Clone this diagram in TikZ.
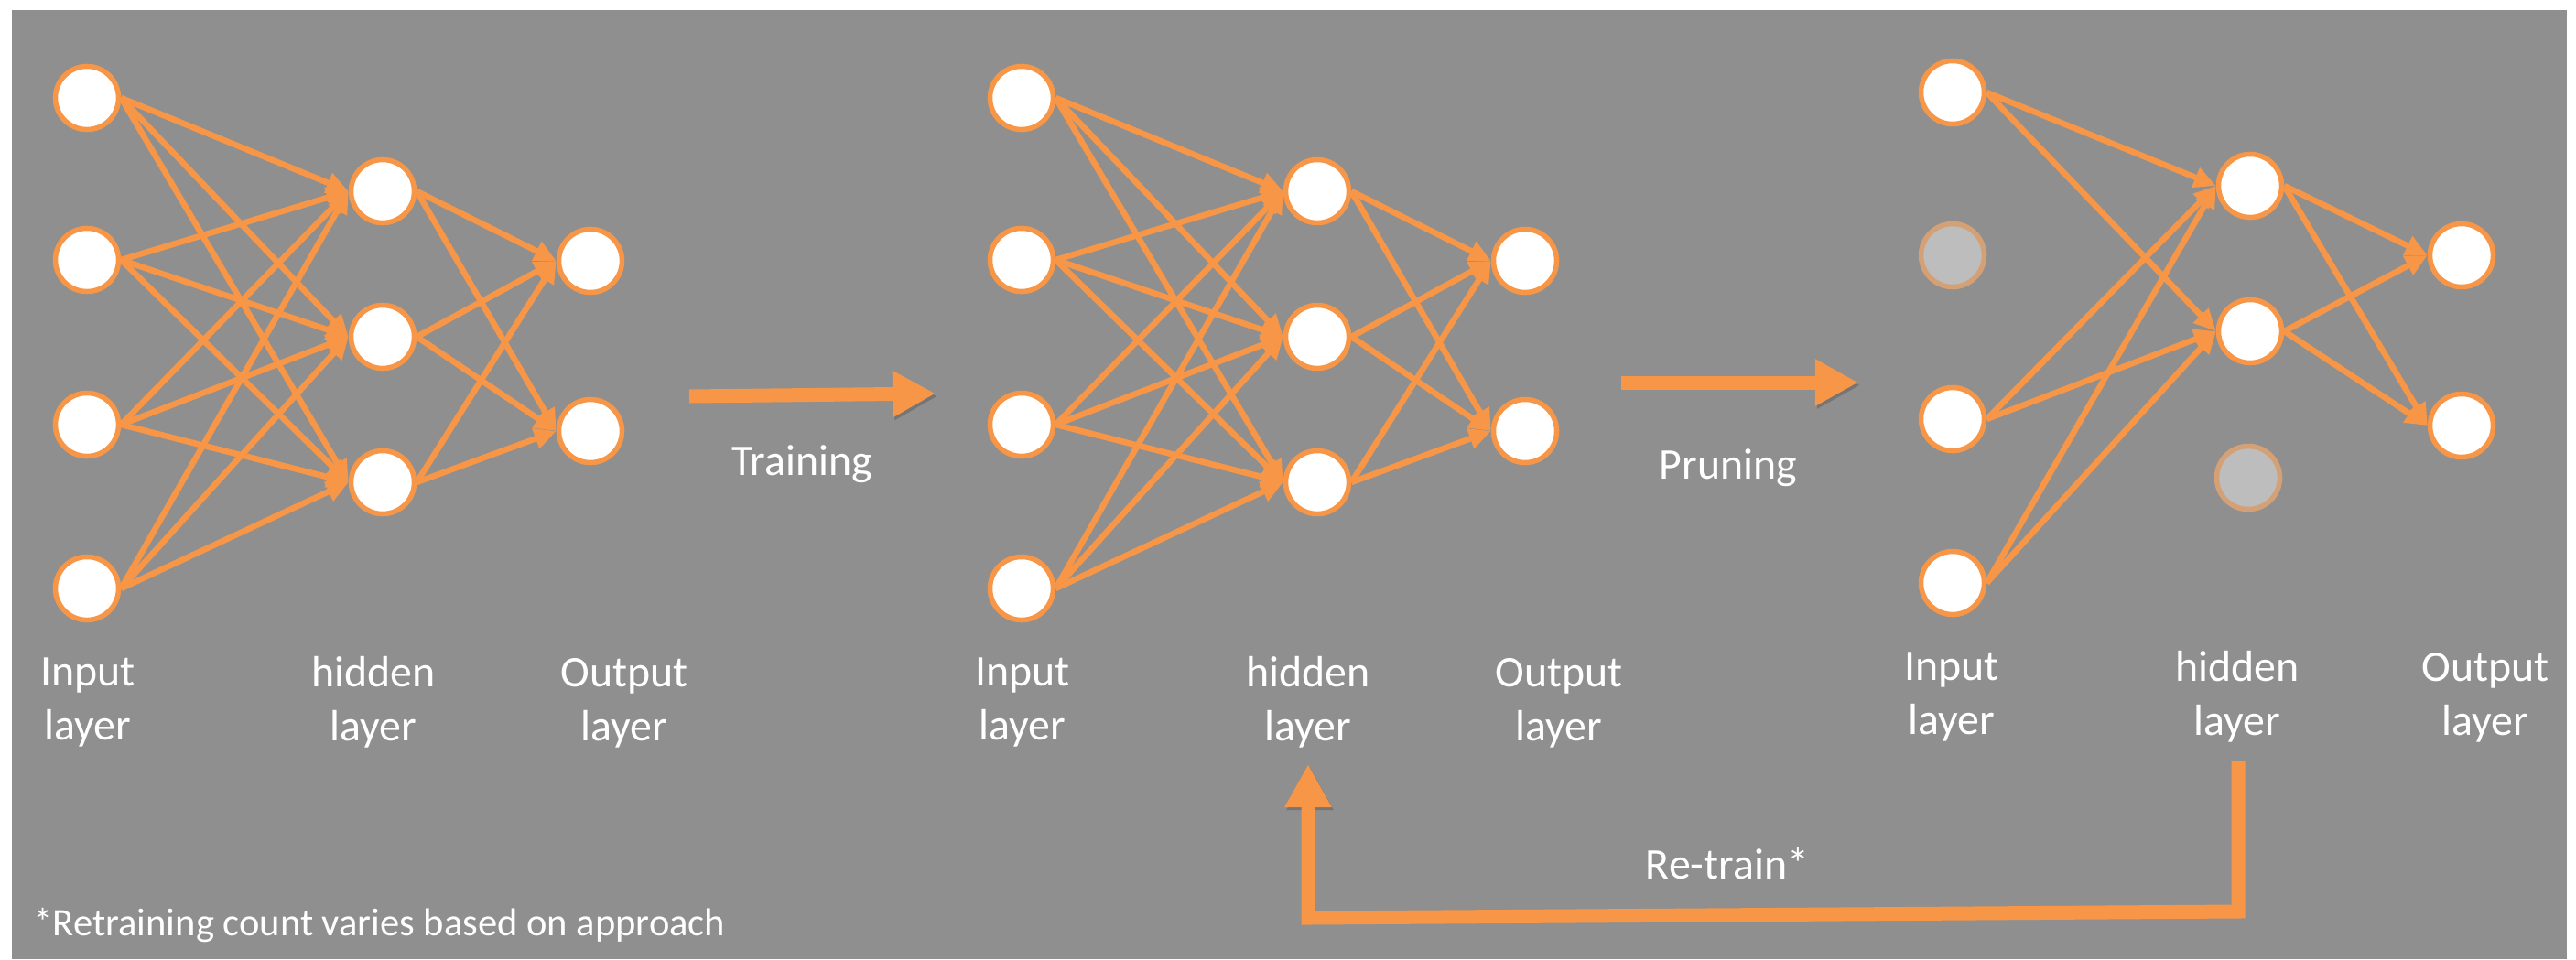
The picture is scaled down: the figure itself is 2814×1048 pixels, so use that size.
\documentclass[tikz,border=0pt]{standalone}
\usepackage{fontspec}
\setmainfont{Carlito}
\usetikzlibrary{arrows.meta}

\definecolor{panel}{RGB}{143,143,143}
\definecolor{accent}{RGB}{247,150,70}
\definecolor{prunedfill}{RGB}{189,189,189}
\definecolor{prunededge}{RGB}{212,160,118}

\tikzset{
  neuron/.style={circle, draw=accent, fill=white, line width=0.055cm,
    minimum size=0.69cm, inner sep=0pt},
  pruned/.style={neuron, draw=prunededge, fill=prunedfill},
  link/.style={draw=accent, line width=0.065cm,
    -{Triangle[length=0.24cm,width=0.22cm]}},
  flow/.style={draw=accent, line width=0.15cm, line join=miter,
    -{Triangle[length=0.47cm,width=0.48cm]},
    preaction={draw=black, opacity=0.18,
      transform canvas={shift={(2,3)}}}},
  layerlabel/.style={text=white, align=center, anchor=base, inner sep=0pt,
    font=\fontsize{13.6}{16.5}\selectfont},
  steplabel/.style={text=white, anchor=base, inner sep=0pt,
    font=\fontsize{13.6}{16.5}\selectfont},
  footnote/.style={text=white, anchor=base west, inner sep=0pt,
    font=\fontsize{12.1}{14}\selectfont},
}

\begin{document}
\begin{tikzpicture}[x=0.01cm, y=-0.01cm]
\useasboundingbox (0,0) rectangle (2814,1048);
\fill[white] (0,0) rectangle (2814,1048);
\fill[panel] (13,11) rectangle (2804,1048);

% two fully connected networks: before and after training
\foreach \n/\dx in {a/0, b/1021} {
  \foreach \y [count=\i] in {107,284,464,643}
    \node[neuron] (\n i\i) at (95+\dx,\y) {};
  \foreach \y [count=\i] in {209,368,527}
    \node[neuron] (\n h\i) at (418+\dx,\y) {};
  \foreach \y [count=\i] in {285,471}
    \node[neuron] (\n o\i) at (645+\dx,\y) {};
  \foreach \i in {1,...,4}
    \foreach \j in {1,2,3}
      \draw[link] (\n i\i.east) -- (\n h\j.west);
  \foreach \j in {1,2,3}
    \foreach \k in {1,2}
      \draw[link] (\n h\j.east) -- (\n o\k.west);
  \node[layerlabel] (\n li) at (96+\dx,808) {Input\\layer};
  \node[layerlabel] (\n lh) at (408+\dx,809) {hidden\\layer};
  \node[layerlabel] (\n lo) at (682+\dx,809) {Output\\layer};
}

% pruned network
\node[neuron] (ci1) at (2133,101) {};
\node[pruned] (ci2) at (2133,279) {};
\node[neuron] (ci3) at (2133,458) {};
\node[neuron] (ci4) at (2133,637) {};
\node[neuron] (ch1) at (2458,203) {};
\node[neuron] (ch2) at (2458,362) {};
\node[pruned] (ch3) at (2456,522) {};
\node[neuron] (co1) at (2689,279) {};
\node[neuron] (co2) at (2689,465) {};
\foreach \i in {1,3,4}
  \foreach \j in {1,2}
    \draw[link] (ci\i.east) -- (ch\j.west);
\foreach \j in {1,2}
  \foreach \k in {1,2}
    \draw[link] (ch\j.east) -- (co\k.west);
\node[layerlabel] (cli) at (2132,802) {Input\\layer};
\node[layerlabel] (clh) at (2444,803) {hidden\\layer};
\node[layerlabel] (clo) at (2715,803) {Output\\layer};

% process arrows
\coordinate (trainA) at (753,433);
\coordinate (trainB) at (1022,430);
\draw[flow] (trainA) -- (trainB);
\node[steplabel] (train) at (876,519) {Training};

\coordinate (pruneA) at (1771,418);
\coordinate (pruneB) at (2030,418);
\draw[flow] (pruneA) -- (pruneB);
\node[steplabel] (prune) at (1888,523) {Pruning};

\coordinate (retrainA) at (2445,832);
\coordinate (retrainB) at (1429,835);
\draw[flow] (retrainA) -- (2445,996) -- (1429,1003) -- (retrainB);
\node[steplabel] (retrain) at (1887,960) {Re-train*};

\node[footnote] (note) at (36,1022) {*Retraining count varies based on approach};
\end{tikzpicture}
\end{document}
